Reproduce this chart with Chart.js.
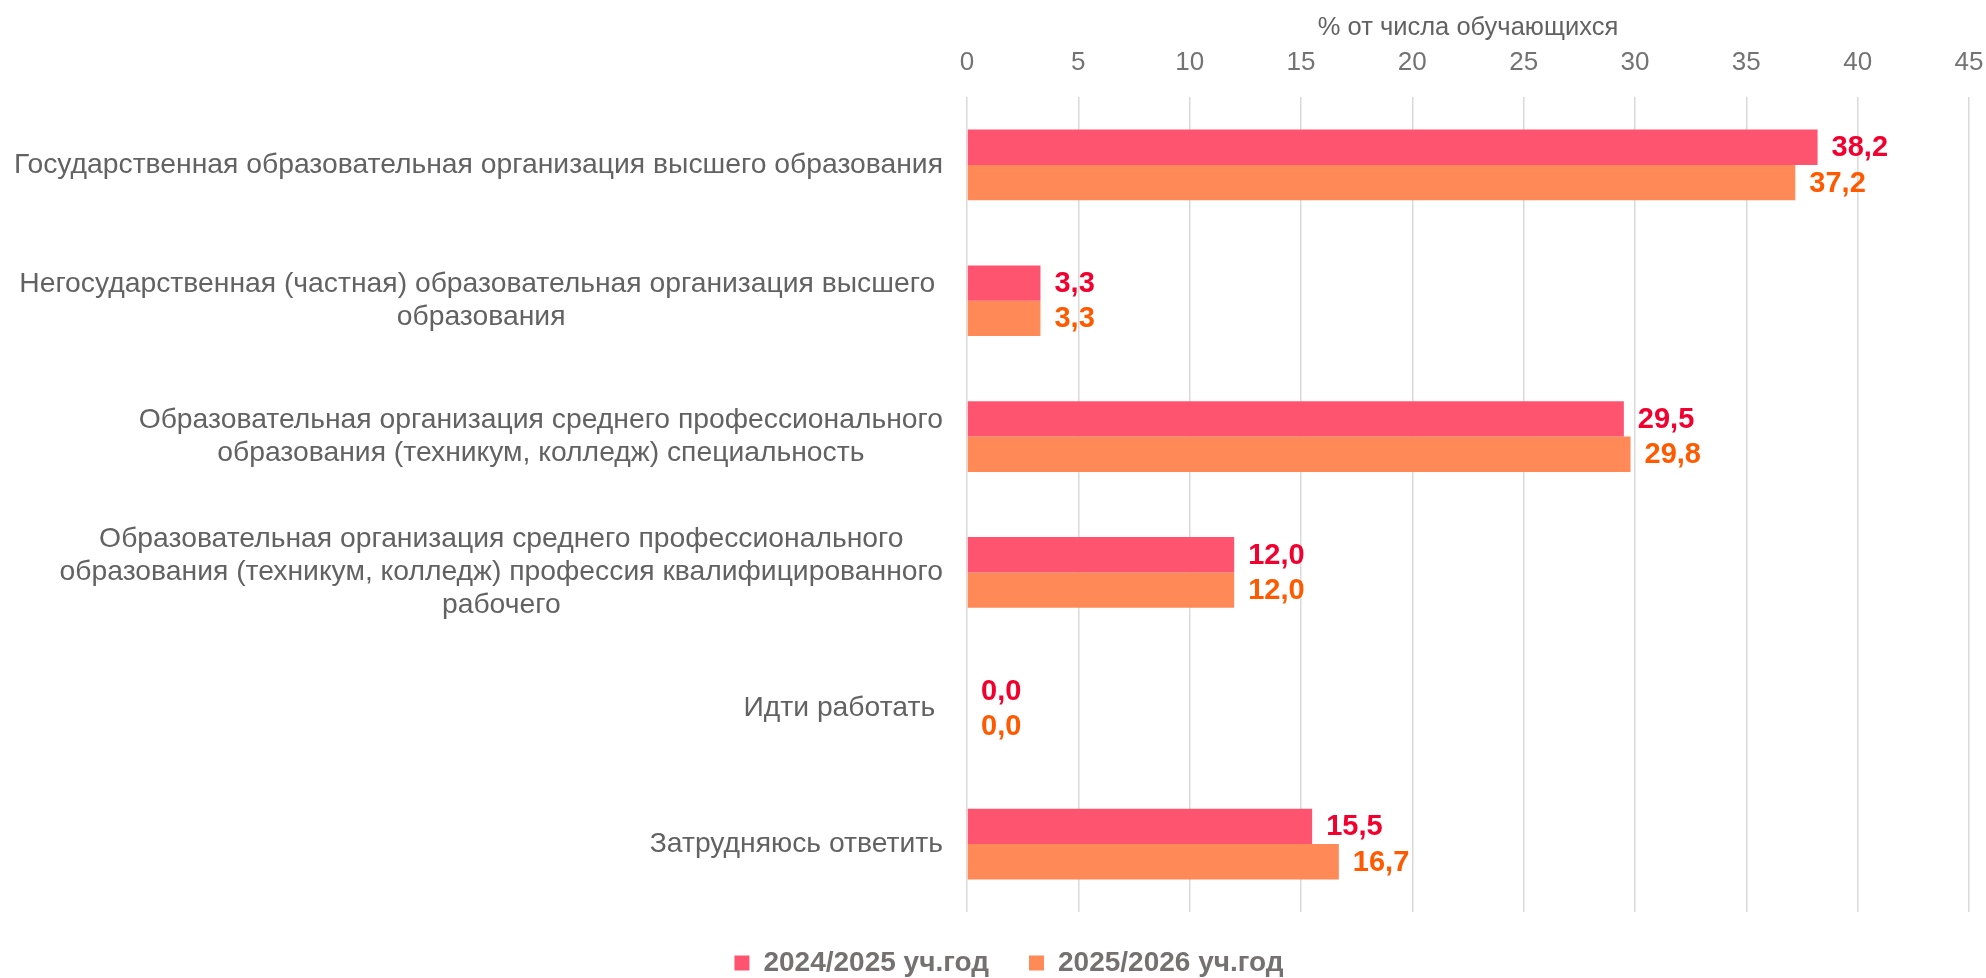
<!DOCTYPE html>
<html lang="ru">
<head>
<meta charset="utf-8">
<script src="https://cdn.jsdelivr.net/npm/chart.js@4.4.1/dist/chart.umd.min.js"></script>
<style>
  body { margin: 0; background: #fff; }
  #wrap { width: 1986px; height: 978px; }
</style>
</head>
<body>
<div id="wrap"><canvas id="chart" width="1986" height="978"></canvas></div>
<script>
const categories = [
    ['Государственная образовательная организация высшего образования'],
    ['Негосударственная (частная) образовательная организация высшего ', 'образования'],
    ['Образовательная организация среднего профессионального', 'образования (техникум, колледж) специальность'],
    ['Образовательная организация среднего профессионального', 'образования (техникум, колледж) профессия квалифицированного', 'рабочего'],
    ['Идти работать '],
    ['Затрудняюсь ответить']
];
const seriesNames = ['2024/2025 уч.год', '2025/2026 уч.год'];
const values2024 = [38.2, 3.3, 29.5, 12.0, 0.0, 15.5];
const values2025 = [37.2, 3.3, 29.8, 12.0, 0.0, 16.7];
const xTicks = [0, 5, 10, 15, 20, 25, 30, 35, 40, 45];
const axisTitle = '% от числа обучающихся';

const barColors = ['#FF5470', '#FF8A57'];
const labelColors = ['#F2002E', '#FF5A00'];
const fontFamily = '"Liberation Sans", Arial, sans-serif';

// подписи значений у концов полос
const valueLabels = {
    id: 'valueLabels',
    afterDatasetsDraw(chart) {
        const ctx = chart.ctx;
        ctx.save();
        ctx.font = 'bold 29px ' + fontFamily;
        ctx.textAlign = 'left';
        ctx.textBaseline = 'middle';
        chart.data.datasets.forEach((ds, di) => {
            const meta = chart.getDatasetMeta(di);
            ctx.fillStyle = labelColors[di];
            meta.data.forEach((bar, i) => {
                const txt = ds.data[i].toFixed(1).replace('.', ',');
                ctx.fillText(txt, bar.x + 14, bar.y + 1);
            });
        });
        ctx.restore();
    }
};

// подписи категорий: блок выровнен вправо, строки по центру блока
const categoryLabels = {
    id: 'categoryLabels',
    afterDraw(chart) {
        const ctx = chart.ctx;
        const yScale = chart.scales.y;
        const rightEdge = chart.chartArea.left - 24;
        const lineH = 33;
        ctx.save();
        ctx.font = '28.3px ' + fontFamily;
        ctx.fillStyle = '#626262';
        ctx.textAlign = 'center';
        ctx.textBaseline = 'middle';
        categories.forEach((lines, i) => {
            const cy = yScale.getPixelForTick(i);
            const w = Math.max(...lines.map(l => ctx.measureText(l).width));
            const cx = rightEdge - w / 2;
            const top = cy - (lines.length - 1) * lineH / 2;
            lines.forEach((l, k) => ctx.fillText(l, cx, top + k * lineH));
        });
        ctx.restore();
    }
};

// легенда чуть ниже и правее
const legendShift = {
    id: 'legendShift',
    afterLayout(chart) {
        const lg = chart.legend;
        if (!lg) return;
        lg.top -= 3; lg.bottom -= 3;
        lg.left += 16; lg.right += 16;
    }
};

new Chart(document.getElementById('chart'), {
    type: 'bar',
    data: {
        labels: categories,
        datasets: [
            { label: seriesNames[0], data: values2024, backgroundColor: barColors[0] },
            { label: seriesNames[1], data: values2025, backgroundColor: barColors[1] }
        ]
    },
    options: {
        indexAxis: 'y',
        responsive: false,
        animation: false,
        layout: { padding: { top: 0, right: 0, bottom: -12, left: 0 } },
        datasets: { bar: { barPercentage: 1, categoryPercentage: 0.52 } },
        scales: {
            x: {
                position: 'top',
                min: 0, max: 45,
                afterBuildTicks: s => { s.ticks = xTicks.map(v => ({ value: v })); },
                afterFit: s => { s.height = 97; s.paddingRight = 17; },
                ticks: { font: { family: fontFamily, size: 26 }, color: '#737373', padding: 18.5 },
                grid: { color: '#D9D9D9', lineWidth: 1.5, drawTicks: false },
                border: { display: false },
                title: {
                    display: true, text: axisTitle,
                    font: { family: fontFamily, size: 25.5 }, color: '#626262',
                    padding: { top: 13, bottom: 0 }
                }
            },
            y: {
                ticks: { display: false },
                grid: { display: false },
                border: { display: false },
                afterFit: s => { s.width = 967; }
            }
        },
        plugins: {
            legend: {
                position: 'bottom',
                labels: {
                    boxWidth: 15, boxHeight: 15,
                    font: { family: fontFamily, size: 28, weight: 'bold' },
                    color: '#767171', padding: 40
                }
            },
            tooltip: { enabled: false }
        }
    },
    plugins: [valueLabels, categoryLabels, legendShift]
});
</script>
</body>
</html>
